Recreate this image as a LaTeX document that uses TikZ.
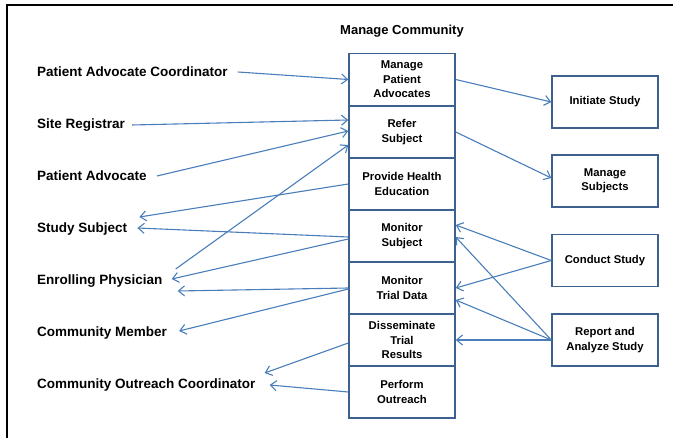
\documentclass[tikz,border=0pt]{standalone}
\usepackage{fontspec}
\setmainfont{Liberation Sans}
\usetikzlibrary{arrows.meta}
\definecolor{linkblue}{RGB}{74,126,187}
\definecolor{boxblue}{RGB}{62,96,142}
\begin{document}
\begin{tikzpicture}[x=1pt,y=-1pt,
  actor/.style={anchor=west,inner sep=0pt,font=\fontsize{13.5}{16}\selectfont\bfseries},
  usecase/.style={draw=boxblue,line width=1.4pt,minimum width=106pt,minimum height=52pt,
    inner sep=1pt,align=center,font=\fontsize{11.3}{14.5}\selectfont\bfseries},
  link/.style={draw=linkblue,line width=1.1pt,-{Straight Barb[length=6pt,width=10pt]}}]
\useasboundingbox (0,0) rectangle (673,438);

% open frame on the left and top
\draw[line width=2pt] (6.5,438) -- (6.5,5.5) -- (673,5.5);

\node[font=\fontsize{13}{15}\selectfont\bfseries] (title) at (402,31) {Manage Community};

% central stack of use cases
\node[usecase] (mpa)  at (402,79.5) {Manage\\Patient\\Advocates};
\node[usecase] (rs)   at (402,132)  {Refer\\Subject};
\node[usecase] (phe)  at (402,184)  {Provide Health\\Education};
\node[usecase] (ms)   at (402,236)  {Monitor\\Subject};
\node[usecase] (mtd)  at (402,288)  {Monitor\\Trial Data};
\node[usecase] (dtr)  at (402,340)  {Disseminate\\Trial\\Results};
\node[usecase] (po)   at (402,392)  {Perform\\Outreach};

% related use cases on the right
\node[usecase] (is)   at (605,102)   {Initiate Study};
\node[usecase] (msub) at (605,181)   {Manage\\Subjects};
\node[usecase] (cs)   at (605,260.5) {Conduct Study};
\node[usecase] (ra)   at (605,340)   {Report and\\Analyze Study};

% actors
\node[actor] (pac) at (37,72)  {Patient Advocate Coordinator};
\node[actor] (sr)  at (37,125) {Site Registrar};
\node[actor] (pa)  at (37,176) {Patient Advocate};
\node[actor] (ss)  at (37,229) {Study Subject};
\node[actor] (ep)  at (37,281) {Enrolling Physician};
\node[actor] (cm)  at (37,333) {Community Member};
\node[actor] (coc) at (37,385) {Community Outreach Coordinator};

% actors into the stack
\draw[link] ([xshift=10pt]pac.east) -- (mpa.west);
\draw[link] ([xshift=7pt]sr.east) -- ([yshift=12pt]rs.west);
\draw[link] ([xshift=10pt]pa.east) -- ([yshift=1pt]rs.west);
\draw[link] ([xshift=13pt,yshift=12pt]ep.east) -- ([yshift=-13pt]rs.west);

% stack out to actors
\draw[link] (phe.west) -- ([xshift=12pt,yshift=12pt]ss.east);
\draw[link] ([yshift=-1pt]ms.west) -- ([xshift=10pt,yshift=1pt]ss.east);
\draw[link] ([yshift=-3pt]ms.west) -- ([xshift=9pt,yshift=2pt]ep.east);
\draw[link] (mtd.west) -- ([xshift=15pt,yshift=-10pt]ep.east);
\draw[link] ([yshift=-1pt]mtd.west) -- ([xshift=12pt,yshift=2pt]cm.east);
\draw[link] ([yshift=-3pt]dtr.west) -- ([xshift=9pt,yshift=12pt]coc.east);
\draw[link] (po.west) -- ([xshift=14pt]coc.east);

% stack to the right-hand use cases
\draw[link] (mpa.east) -- (is.west);
\draw[link] (rs.east) -- ([yshift=3pt]msub.west);
\draw[link] (cs.west) -- ([yshift=11pt]ms.east);
\draw[link] (cs.west) -- (mtd.east);
\draw[link] (ra.west) -- ([yshift=-1pt]ms.east);
\draw[link] (ra.west) -- ([yshift=-12pt]mtd.east);
\draw[link] (ra.west) -- (dtr.east);
\end{tikzpicture}
\end{document}
